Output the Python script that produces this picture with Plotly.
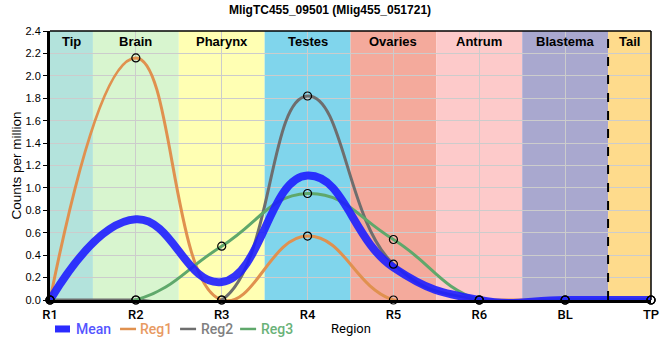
import plotly.graph_objects as go

categories = ["R1", "R2", "R3", "R4", "R5", "R6", "BL", "TP"]
mean_vals = [0, 0.72, 0.16, 1.11, 0.29, 0, 0, 0]
reg1_vals = [0, 2.16, 0, 0.57, 0, 0, 0, 0]
reg2_vals = [0, 0, 0, 1.82, 0.32, 0, 0, 0]
reg3_vals = [0, 0, 0.48, 0.95, 0.54, 0, 0, 0]

band_names = ["Tip", "Brain", "Pharynx", "Testes", "Ovaries", "Antrum", "Blastema", "Tail"]
band_starts = [0, 0.5, 1.5, 2.5, 3.5, 4.5, 5.5, 6.5]
band_ends = [0.5, 1.5, 2.5, 3.5, 4.5, 5.5, 6.5, 7]
band_colors = ["#b3e3dc", "#d8f5cf", "#ffffb3", "#80d5ec", "#f4aa9c", "#fdcaca", "#a9a8cf", "#fedb8c"]

xs = list(range(len(categories)))

fig = go.Figure()

series = [
    ("Mean", mean_vals, "rgba(30,30,255,0.9)", 8),
    ("Reg1", reg1_vals, "#e0914f", 3),
    ("Reg2", reg2_vals, "#6e6e6e", 3),
    ("Reg3", reg3_vals, "#5fa86b", 3),
]
for i in [1, 2, 3, 0]:
    name, vals, color, width = series[i]
    fig.add_trace(go.Scatter(
        x=xs, y=vals, mode="lines", name=name,
        line=dict(color=color, width=width, shape="spline", smoothing=1.3),
        showlegend=False, hoverinfo="skip",
    ))
for i in [1, 2, 3]:
    name, vals, color, width = series[i]
    fig.add_trace(go.Scatter(
        x=xs, y=vals, mode="markers",
        marker=dict(symbol="circle-open", size=8, color="black", line=dict(width=1.2)),
        showlegend=False, cliponaxis=False, hoverinfo="skip",
    ))

shapes = []
for s, e, c in zip(band_starts, band_ends, band_colors):
    shapes.append(dict(type="rect", xref="x", yref="paper", x0=s, x1=e, y0=0, y1=1,
                       fillcolor=c, line=dict(width=0), layer="below"))
shapes.append(dict(type="line", xref="x", yref="paper", x0=6.5, x1=6.5, y0=0, y1=1,
                   line=dict(color="black", width=2, dash="dash"), layer="above"))

annotations = []
for s, e, n in zip(band_starts, band_ends, band_names):
    annotations.append(dict(x=(s + e) / 2, y=1, xref="x", yref="paper", text="<b>" + n + "</b>",
                            showarrow=False, yanchor="top", yshift=-1,
                            font=dict(family="Liberation Sans", size=13, color="black")))

# custom legend
W = 600.7
H = 269.3
def px(xp):
    return (xp - 50) / W
ly = -29 / H
leg = [("Mean", "#2b2bff", 7, 55, 70, 74, "#5555ff"),
       ("Reg1", "#e0914f", 2.5, 120, 136, 138, "#e89a62"),
       ("Reg2", "#6e6e6e", 2.5, 180, 196, 199, "#808080"),
       ("Reg3", "#5fa86b", 2.5, 240, 256, 259, "#6ab278")]
for name, col, w, x0, x1, tx, tcol in leg:
    shapes.append(dict(type="line", xref="paper", yref="paper", x0=px(x0), x1=px(x1), y0=ly, y1=ly,
                       line=dict(color=col, width=w)))
    annotations.append(dict(x=px(tx), y=ly, xref="paper", yref="paper", text=name, showarrow=False,
                            xanchor="left", yanchor="middle",
                            font=dict(family="Roboto", size=14, color=tcol, weight=500)))
annotations.append(dict(x=px(351), y=ly, xref="paper", yref="paper", text="Region", showarrow=False,
                        xanchor="center", yanchor="middle",
                        font=dict(family="Roboto", size=13, color="black")))
annotations.append(dict(x=px(17), y=0.5, xref="paper", yref="paper", text="Counts per million",
                        showarrow=False, textangle=-90, xanchor="center", yanchor="middle",
                        font=dict(family="Liberation Sans", size=13.5, color="black")))

fig.update_layout(
    width=660, height=360,
    margin=dict(l=50, r=9, t=31, b=60, autoexpand=False),
    paper_bgcolor="white", plot_bgcolor="white",
    title=dict(text="<b>MligTC455_09501 (Mlig455_051721)</b>", x=0.5, xanchor="center", y=0.985, yanchor="top",
               font=dict(family="Liberation Sans", size=12, color="black")),
    shapes=shapes, annotations=annotations,
    showlegend=False,
)
fig.update_xaxes(
    range=[0, 7], tickmode="array", tickvals=xs, ticktext=categories,
    showgrid=True, gridcolor="#cccccc", gridwidth=1,
    showline=True, linecolor="black", linewidth=3,
    ticks="", tickfont=dict(family="Roboto", size=13, color="black", weight=500),
    automargin=False, zeroline=False,
)
fig.update_yaxes(
    range=[0, 2.4], dtick=0.2, tickformat=".1f",
    showgrid=True, gridcolor="#cccccc", gridwidth=1,
    showline=True, linecolor="black", linewidth=3,
    ticks="outside", ticklen=4, tickcolor="black",
    tickfont=dict(family="Liberation Sans", size=11, color="black"),
    automargin=False, zeroline=False,
)
fig.add_shape(type="line", xref="paper", yref="paper", x0=0, x1=1, y0=1, y1=1, line=dict(color="black", width=1.5))
fig.add_shape(type="line", xref="paper", yref="paper", x0=1, x1=1, y0=0, y1=1, line=dict(color="black", width=1.5))

fig.write_html("out.html", config={"displayModeBar": False},
               post_script="document.body.style.margin='0';")
